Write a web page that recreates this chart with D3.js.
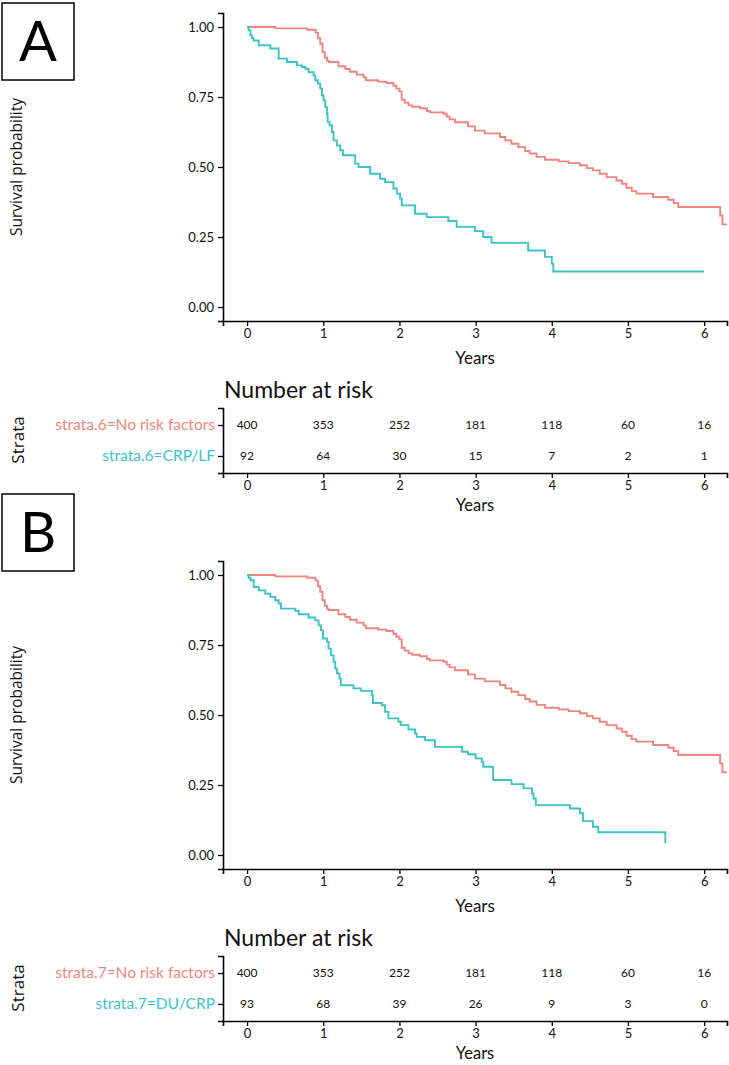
<!DOCTYPE html>
<html><head><meta charset="utf-8">
<script src="https://cdn.jsdelivr.net/npm/d3@7"></script>
<style>body{margin:0;background:#fff}svg{display:block}</style>
</head><body>
<svg id="chart" width="729" height="1065"></svg>
<script>
// ---------- data ----------
const panelLetters = ["A", "B"];
const yTickValues = [0, 0.25, 0.5, 0.75, 1];
const yTickLabels = ["0.00", "0.25", "0.50", "0.75", "1.00"];
const xTickValues = [0, 1, 2, 3, 4, 5, 6];
const strataA = ["strata.6=No risk factors", "strata.6=CRP/LF"];
const strataB = ["strata.7=No risk factors", "strata.7=DU/CRP"];
const riskNoFactors = [400, 353, 252, 181, 118, 60, 16];
const riskCrpLf = [92, 64, 30, 15, 7, 2, 1];
const riskDuCrp = [93, 68, 39, 26, 9, 3, 0];

// Kaplan-Meier step points [time (years), survival]
const curveNoRisk = [[0,1],[0.37,0.995],[0.79,0.99],[0.90,0.98],[0.93,0.96],[0.96,0.94],[0.99,0.91],[1.02,0.89],[1.05,0.88],[1.07,0.875],[1.2,0.86],[1.29,0.85],[1.35,0.84],[1.44,0.83],[1.53,0.82],[1.56,0.81],[1.72,0.805],[1.83,0.80],[1.92,0.79],[1.96,0.78],[2.0,0.77],[2.03,0.74],[2.07,0.73],[2.12,0.72],[2.17,0.715],[2.27,0.71],[2.36,0.70],[2.40,0.695],[2.58,0.69],[2.62,0.68],[2.66,0.67],[2.73,0.66],[2.90,0.645],[2.99,0.63],[3.12,0.62],[3.32,0.607],[3.39,0.595],[3.47,0.583],[3.56,0.571],[3.65,0.557],[3.71,0.548],[3.80,0.536],[3.91,0.526],[4.09,0.52],[4.22,0.514],[4.37,0.506],[4.46,0.496],[4.54,0.488],[4.63,0.476],[4.72,0.464],[4.85,0.452],[4.92,0.44],[4.98,0.426],[5.05,0.414],[5.11,0.405],[5.33,0.393],[5.53,0.383],[5.60,0.371],[5.66,0.357],[6.21,0.327],[6.24,0.295]];
const endNoRisk = 6.3;
const curveCrpLf = [[0,1],[0.02,0.988],[0.045,0.97],[0.066,0.96],[0.087,0.952],[0.153,0.935],[0.306,0.923],[0.415,0.887],[0.524,0.875],[0.655,0.863],[0.72,0.857],[0.764,0.851],[0.808,0.839],[0.873,0.827],[0.895,0.81],[0.93,0.798],[0.96,0.78],[0.983,0.756],[1.004,0.738],[1.026,0.714],[1.048,0.69],[1.057,0.661],[1.083,0.649],[1.114,0.625],[1.135,0.595],[1.179,0.577],[1.223,0.56],[1.258,0.542],[1.419,0.512],[1.463,0.5],[1.616,0.476],[1.747,0.458],[1.812,0.446],[1.921,0.423],[1.965,0.405],[2.009,0.387],[2.031,0.363],[2.205,0.333],[2.358,0.321],[2.642,0.307],[2.751,0.286],[2.99,0.271],[3.10,0.25],[3.21,0.229],[3.69,0.202],[3.91,0.179],[4.0,0.155],[4.02,0.127]];
const endCrpLf = 6.0;
const curveDuCrp = [[0,1],[0.02,0.99],[0.044,0.981],[0.087,0.957],[0.153,0.945],[0.24,0.933],[0.306,0.922],[0.371,0.91],[0.415,0.898],[0.445,0.88],[0.633,0.872],[0.677,0.86],[0.808,0.848],[0.895,0.838],[0.939,0.82],[0.969,0.803],[0.996,0.773],[1.048,0.761],[1.07,0.737],[1.1,0.713],[1.135,0.69],[1.157,0.666],[1.179,0.648],[1.214,0.63],[1.231,0.606],[1.397,0.595],[1.493,0.586],[1.638,0.571],[1.651,0.543],[1.769,0.535],[1.812,0.511],[1.856,0.488],[1.987,0.476],[2.017,0.464],[2.118,0.448],[2.205,0.434],[2.227,0.422],[2.336,0.41],[2.467,0.386],[2.82,0.369],[2.90,0.36],[3.0,0.345],[3.08,0.333],[3.10,0.315],[3.23,0.268],[3.47,0.253],[3.63,0.238],[3.74,0.22],[3.76,0.202],[3.79,0.178],[4.24,0.166],[4.37,0.149],[4.41,0.121],[4.54,0.101],[4.61,0.081],[5.49,0.042]];
const endDuCrp = 5.49;

// ---------- styles ----------
const RED = "#EE8580", TEAL = "#3EC3C5";
const numFont = "Lato, 'Noto Sans', sans-serif";
const titleFont = "'Open Sans', 'Noto Sans', sans-serif";

const svg = d3.select("#chart");

function drawPanel(opts) {
  const g = svg.append("g").attr("transform", `translate(0,${opts.dy})`);
  // letter box
  svg.append("rect").attr("x", 2).attr("y", opts.boxY).attr("width", 72).attr("height", 77)
    .attr("fill", "none").attr("stroke", "#000").attr("stroke-width", 1.5);
  svg.append("text").attr("x", 38).attr("y", opts.boxY + 58).attr("text-anchor", "middle")
    .attr("font-family", numFont).attr("font-size", 56).text(opts.letter);

  const x = d3.scaleLinear().domain([-0.316, 6.3]).range([223, 727]);
  const y = d3.scaleLinear().domain([-0.05, 1.05]).range([321, 13]);

  // curves
  const line = d3.line().x(d => x(d[0])).y(d => y(d[1])).curve(d3.curveStepAfter);
  const clip = "clip" + opts.letter;
  g.append("clipPath").attr("id", clip).append("rect").attr("x", 223).attr("y", 0).attr("width", 506).attr("height", 330);
  opts.curves.forEach(c => {
    const pts = c.pts.concat([[c.end, c.pts[c.pts.length - 1][1]]]);
    g.append("path").attr("d", line(pts)).attr("fill", "none").attr("stroke", c.color)
      .attr("stroke-width", 1.9).attr("clip-path", `url(#${clip})`);
  });

  // axes
  const yAxis = d3.axisLeft(y).tickValues(yTickValues).tickFormat((d, i) => yTickLabels[i]).tickSizeOuter(0).tickSize(5).tickPadding(4);
  const ya = g.append("g").attr("transform", "translate(223,0)").call(yAxis);
  const xAxis = d3.axisBottom(x).tickValues(xTickValues).tickFormat(d3.format("d")).tickSizeOuter(0).tickSize(5).tickPadding(3);
  const xa = g.append("g").attr("transform", "translate(0,321)").call(xAxis);
  [ya, xa].forEach(a => {
    a.select(".domain").attr("stroke", "#000").attr("stroke-width", 1.6);
    a.selectAll(".tick line").attr("stroke", "#000").attr("stroke-width", 1.3);
    a.selectAll("text").attr("font-family", numFont).attr("font-size", 13).attr("fill", "#111");
  });

  g.append("text").attr("transform", "translate(22,167) rotate(-90)").attr("text-anchor", "middle")
    .attr("font-family", titleFont).attr("font-size", 15.5).attr("fill", "#111").text("Survival probability");
  g.append("text").attr("x", 475).attr("y", 364).attr("text-anchor", "middle")
    .attr("font-family", numFont).attr("font-size", 17).attr("fill", "#111").text("Years");

  // risk table
  g.append("text").attr("x", 224).attr("y", 398).attr("font-family", numFont).attr("font-size", 23)
    .attr("fill", "#111").text("Number at risk");
  const yr = d3.scalePoint().domain(opts.strata).range([408, 473]).padding(0.55);
  const tyAxis = d3.axisLeft(yr).tickSizeOuter(0).tickSize(5).tickPadding(3);
  const tya = g.append("g").attr("transform", "translate(223,0)").call(tyAxis);
  tya.selectAll(".tick text").attr("fill", (d, i) => opts.colors[i]).attr("font-size", 15.5).attr("font-family", numFont);
  const txa = g.append("g").attr("transform", "translate(0,473)").call(xAxis);
  [tya, txa].forEach(a => {
    a.select(".domain").attr("stroke", "#000").attr("stroke-width", 1.6);
    a.selectAll(".tick line").attr("stroke", "#000").attr("stroke-width", 1.3);
  });
  txa.selectAll("text").attr("font-family", numFont).attr("font-size", 13).attr("fill", "#111");
  g.append("text").attr("x", 475).attr("y", 511).attr("text-anchor", "middle")
    .attr("font-family", numFont).attr("font-size", 16.5).attr("fill", "#111").text("Years");
  g.append("text").attr("transform", "translate(24,440) rotate(-90)").attr("text-anchor", "middle")
    .attr("font-family", titleFont).attr("font-size", 17).attr("fill", "#111").text("Strata");

  opts.risks.forEach((arr, ri) => {
    g.append("g").selectAll("text").data(arr).join("text")
      .attr("x", (d, i) => x(xTickValues[i])).attr("y", yr(opts.strata[ri])).attr("dy", "0.35em")
      .attr("text-anchor", "middle").attr("font-family", numFont).attr("font-size", 12).attr("fill", "#111")
      .text(d => d);
  });
}

drawPanel({
  dy: 0, boxY: 3, letter: panelLetters[0], strata: strataA, colors: [RED, TEAL],
  curves: [{pts: curveNoRisk, end: endNoRisk, color: RED}, {pts: curveCrpLf, end: endCrpLf, color: TEAL}],
  risks: [riskNoFactors, riskCrpLf]
});
drawPanel({
  dy: 548, boxY: 494, letter: panelLetters[1], strata: strataB, colors: [RED, TEAL],
  curves: [{pts: curveNoRisk, end: endNoRisk, color: RED}, {pts: curveDuCrp, end: endDuCrp, color: TEAL}],
  risks: [riskNoFactors, riskDuCrp]
});
</script>
</body></html>
